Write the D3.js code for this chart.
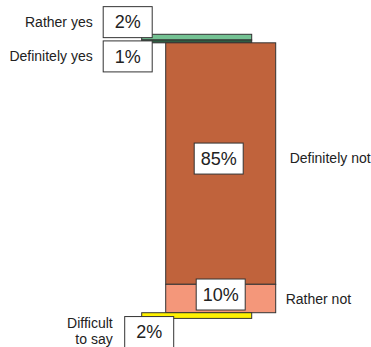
<!DOCTYPE html>
<html>
<head>
<meta charset="utf-8">
<script src="https://cdn.jsdelivr.net/npm/d3@7"></script>
<style>
  html, body { margin: 0; padding: 0; background: #fff; }
  svg { display: block; font-family: "Liberation Sans", Arial, sans-serif; }
</style>
</head>
<body>
<svg id="chart" width="371" height="347"></svg>
<script>
// Answers, stacked top to bottom
const categories = ["Rather yes", "Definitely yes", "Definitely not", "Rather not", "Difficult to say"];
const shares     = [2, 1, 85, 10, 2];
const valueLabels = ["2%", "1%", "85%", "10%", "2%"];
const columns    = ["support", "support", "oppose", "oppose", "support"];
const fills      = ["#74c293", "#2f5d43", "#c0633c", "#f4977a", "#fff200"];

const svg = d3.select("#chart");
const barW = 110;

// vertical scale for cumulative share
const y = d3.scaleLinear().domain([0, 100]).range([34.3, 318.4]);
// the two columns are offset horizontally
const x = d3.scaleOrdinal().domain(["support", "oppose"]).range([141.7, 165.7]);

let acc = 0;
const rows = categories.map((c, i) => {
  const r = { cat: c, v: shares[i], label: valueLabels[i], col: columns[i], fill: fills[i], y0: acc, y1: acc + shares[i] };
  acc += shares[i];
  return r;
});

// bars
svg.append("g").selectAll("rect").data(rows).join("rect")
  .attr("x", d => x(d.col))
  .attr("y", d => y(d.y0))
  .attr("width", barW)
  .attr("height", d => y(d.y1) - y(d.y0))
  .attr("fill", d => d.fill)
  .attr("stroke", "#333")
  .attr("stroke-width", 1);

// value boxes: placement relative to each bar
const boxW = 49, boxH = 31;
const place = {
  "Rather yes":      d => [x(d.col) - 14, (y(d.y0) + y(d.y1)) / 2 - 15],
  "Definitely yes":  d => [x(d.col) - 14, (y(d.y0) + y(d.y1)) / 2 + 15],
  "Definitely not":  d => [x(d.col) + barW / 2 - 2, (y(d.y0) + y(d.y1)) / 2 - 5],
  "Rather not":      d => [x(d.col) + barW / 2, (y(d.y0) + y(d.y1)) / 2 - 4],
  "Difficult to say":d => [x(d.col) + 7.5, (y(d.y0) + y(d.y1)) / 2 + 16.5]
};

const boxes = svg.append("g").selectAll("g").data(rows).join("g")
  .attr("transform", d => { const p = place[d.cat](d); return `translate(${p[0]},${p[1]})`; });
boxes.append("rect")
  .attr("x", -boxW / 2).attr("y", -boxH / 2)
  .attr("width", boxW).attr("height", boxH)
  .attr("fill", "#fff").attr("stroke", "#333").attr("stroke-width", 1);
boxes.append("text")
  .attr("text-anchor", "middle").attr("dy", "0.35em")
  .attr("font-size", 18).attr("fill", "#222")
  .text(d => d.label);

// category names
const catPos = {
  "Rather yes":      d => ({ x: x(d.col) - 49, y: (y(d.y0) + y(d.y1)) / 2 - 15, a: "end", lines: ["Rather yes"] }),
  "Definitely yes":  d => ({ x: x(d.col) - 49, y: (y(d.y0) + y(d.y1)) / 2 + 15, a: "end", lines: ["Definitely yes"] }),
  "Definitely not":  d => ({ x: x(d.col) + barW + 14, y: (y(d.y0) + y(d.y1)) / 2 - 5, a: "start", lines: ["Definitely not"] }),
  "Rather not":      d => ({ x: x(d.col) + barW + 10, y: (y(d.y0) + y(d.y1)) / 2 + 1, a: "start", lines: ["Rather not"] }),
  "Difficult to say":d => ({ x: x(d.col) - 29, y: (y(d.y0) + y(d.y1)) / 2 + 8, a: "end", lines: ["Difficult", "to say"] })
};

rows.forEach(d => {
  const p = catPos[d.cat](d);
  const t = svg.append("text")
    .attr("text-anchor", p.a)
    .attr("font-size", 14).attr("fill", "#222");
  p.lines.forEach((ln, i) => {
    t.append("tspan").attr("x", p.x).attr("y", p.y + i * 15.5).attr("dy", "0.35em").text(ln);
  });
});
</script>
</body>
</html>
